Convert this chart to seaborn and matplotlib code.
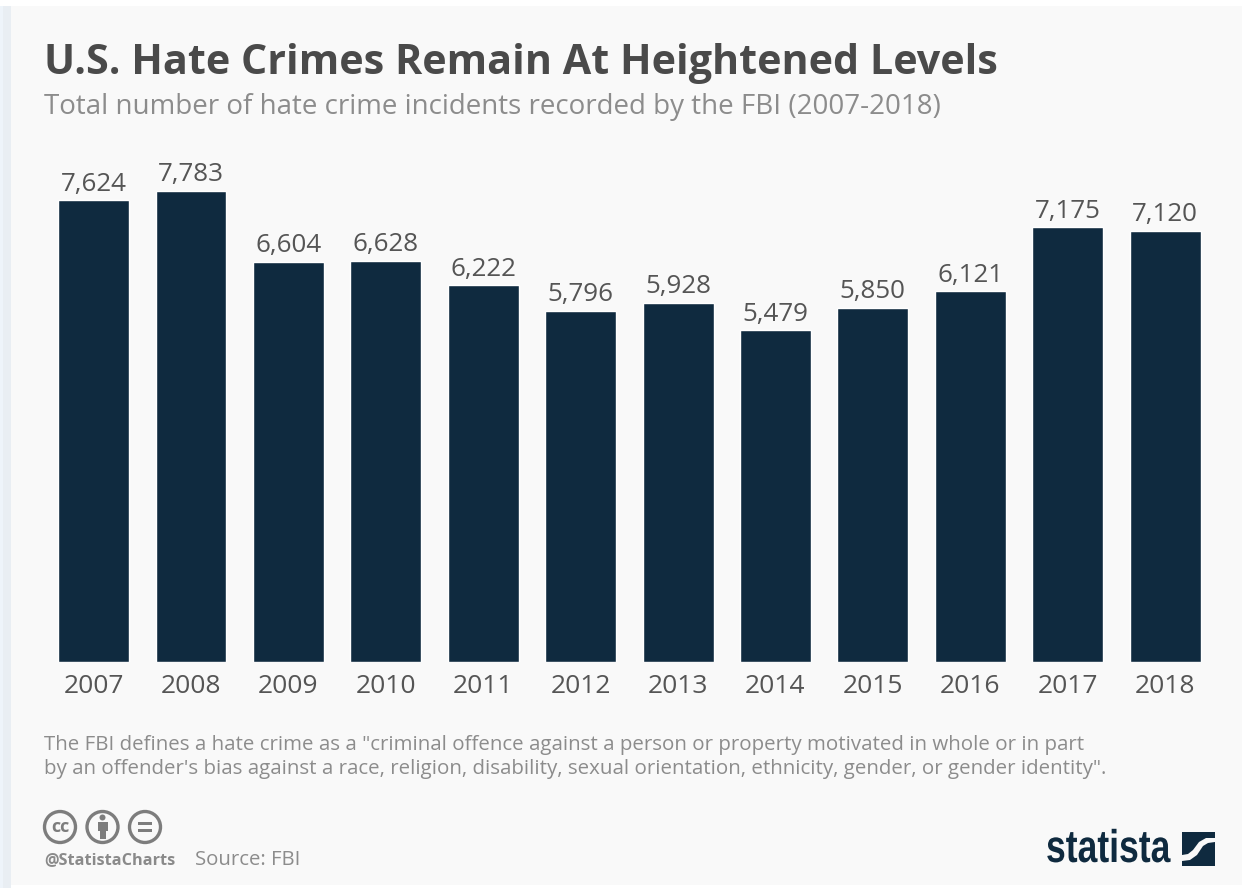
import matplotlib
matplotlib.use("Agg")
import matplotlib.pyplot as plt
import matplotlib.patches as mpatches
import matplotlib.patheffects as pe
from matplotlib.transforms import Affine2D
import pandas as pd
import seaborn as sns

# Values
years = ["2007", "2008", "2009", "2010", "2011", "2012", "2013", "2014", "2015", "2016", "2017", "2018"]
incidents = [7624, 7783, 6604, 6628, 6222, 5796, 5928, 5479, 5850, 6121, 7175, 7120]

title = "U.S. Hate Crimes Remain At Heightened Levels"
subtitle = "Total number of hate crime incidents recorded by the FBI (2007-2018)"
note = ("The FBI defines a hate crime as a \"criminal offence against a person or property motivated in whole or in part\n"
        "by an offender's bias against a race, religion, disability, sexual orientation, ethnicity, gender, or gender identity\".")

W, H = 1245, 888
NAVY = "#0f2a3f"
PANEL = "#f9f9f9"


# Narrows a text horizontally, for the condensed logo lettering
class Squeeze(pe.AbstractPathEffect):
    def __init__(self, sx):
        super().__init__()
        self.sx = sx

    def draw_path(self, renderer, gc, tpath, affine, rgbFace=None):
        renderer.draw_path(gc, tpath, Affine2D().scale(self.sx, 1) + affine, rgbFace)


sns.set_theme(style="white")
plt.rcParams["font.family"] = ["Open Sans", "DejaVu Sans"]

df = pd.DataFrame({"year": years, "incidents": incidents})

fig = plt.figure(figsize=(W / 100, H / 100), dpi=100, facecolor="white")

# Full-figure overlay in pixel coordinates for the card, texts and logos
bg = fig.add_axes([0, 0, 1, 1], zorder=0)
bg.set_xlim(0, W)
bg.set_ylim(H, 0)
bg.axis("off")
bg.add_patch(mpatches.Rectangle((0, 6), 3, H, color="#eef4fa", lw=0))
bg.add_patch(mpatches.Rectangle((3, 6), 8, H, color="#e9eef3", lw=0))
bg.add_patch(mpatches.Rectangle((11, 6), W - 11 - 3, H - 6 - 3, color=PANEL, lw=0))

# Bars
ax = fig.add_axes([44.9 / W, 1 - 661.5 / H, 1168.9 / W, 511 / H], zorder=1)
ax.patch.set_alpha(0)
sns.barplot(data=df, x="year", y="incidents", color=NAVY, width=0.728, saturation=1, ax=ax)
ax.set_xlim(-0.5, 11.5)
ax.set_ylim(0, 511 / 0.0605)
ax.set_xlabel("")
ax.set_ylabel("")
ax.set_yticks([])
sns.despine(ax=ax, left=True, bottom=True)
ax.tick_params(axis="x", length=0, pad=9, labelsize=19, labelcolor="#555555")

labels = [f"{v:,}" for v in incidents]
ax.bar_label(ax.containers[0], labels=labels, padding=2.5, fontsize=18.7, color="#555555")

# Header and footer text
bg.text(44, 63, title, fontsize=29.7, fontweight="bold", color="#4a4a4a", va="center", ha="left")
bg.text(44, 107, subtitle, fontsize=19.95, color="#8c8c8c", va="center", ha="left")
bg.text(44, 757, note, fontsize=14.75, color="#8c8c8c", va="center", ha="left", linespacing=1.31)
bg.text(44, 860, "@StatistaCharts", fontsize=11.7, fontweight="bold", color="#8a8a8a", va="center", ha="left")
bg.text(195, 860, "Source: FBI", fontsize=14.7, color="#8c8c8c", va="center", ha="left")

# Creative Commons icons
GREY = "#7d7d7d"
for cx in (60, 102.5, 145):
    bg.add_patch(mpatches.Circle((cx, 827), 15.5, fc="none", ec=GREY, lw=2.4))
bg.text(60, 827, "cc", fontsize=13, fontweight="bold", color=GREY, ha="center", va="center")
bg.add_patch(mpatches.Circle((102.5, 817.5), 3, color=GREY, lw=0))
bg.add_patch(mpatches.Rectangle((97.5, 822), 10, 9, color=GREY, lw=0))
bg.add_patch(mpatches.Rectangle((99.5, 831), 6, 8, color=GREY, lw=0))
bg.add_patch(mpatches.Rectangle((138, 822), 14, 3, color=GREY, lw=0))
bg.add_patch(mpatches.Rectangle((138, 829), 14, 3, color=GREY, lw=0))

# Statista logo
logo = bg.text(1046, 850, "statista", fontsize=33, fontweight="bold", color=NAVY, va="center", ha="left",
               family=["Liberation Sans"])
logo.set_path_effects([Squeeze(0.775)])
bg.add_patch(mpatches.Polygon([(1182, 832), (1215, 832), (1215, 838), (1206, 838), (1199, 842), (1193, 850), (1188, 854), (1182, 855)], color=NAVY, lw=0))
bg.add_patch(mpatches.Polygon([(1215, 842), (1215, 866), (1182, 866), (1182, 861), (1190, 860), (1197, 855), (1203, 846), (1208, 843)], color=NAVY, lw=0))

fig.savefig("out.png", dpi=100, facecolor=fig.get_facecolor())
